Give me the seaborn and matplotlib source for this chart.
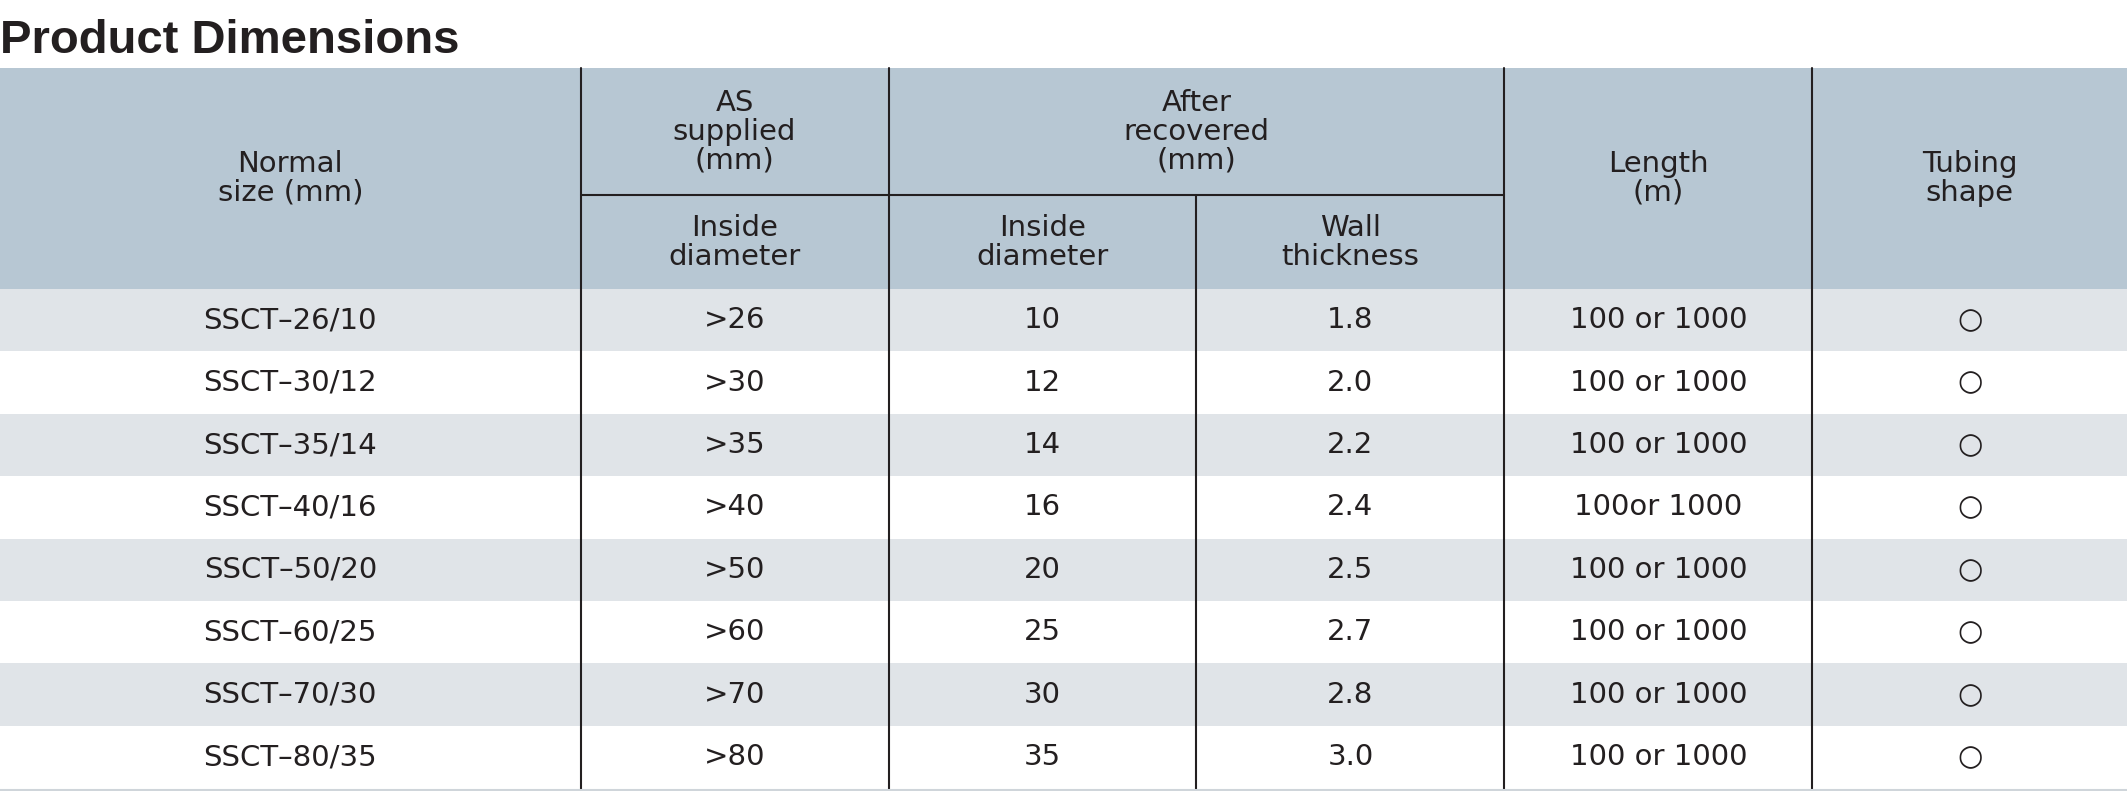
import matplotlib
matplotlib.use('Agg')
from matplotlib import pyplot as plt
import seaborn as sns

sns.set_theme(style='white')
plt.rcParams['font.family'] = ['Liberation Sans Narrow', 'DejaVu Sans']

sizes = ['SSCT-26/10', 'SSCT-30/12', 'SSCT-35/14', 'SSCT-40/16',
         'SSCT-50/20', 'SSCT-60/25', 'SSCT-70/30', 'SSCT-80/35']
supplied_id = ['>26', '>30', '>35', '>40', '>50', '>60', '>70', '>80']
recovered_id = ['10', '12', '14', '16', '20', '25', '30', '35']
wall = ['1.8', '2.0', '2.2', '2.4', '2.5', '2.7', '2.8', '3.0']
length = ['100 or 1000', '100 or 1000', '100 or 1000', '100or 1000',
          '100 or 1000', '100 or 1000', '100 or 1000', '100 or 1000']
shape = ['○'] * 8

W, H = 1568, 583
cols = [0, 428, 655, 882, 1109, 1336, 1568]
head_top, head_mid, head_bot = 50, 144, 213
row_h = 46

fig = plt.figure(figsize=(21.27, 7.91), dpi=100)
ax = fig.add_axes([0, 0, 1, 1])
ax.set_xlim(0, W)
ax.set_ylim(H, 0)
ax.axis('off')

hdr = '#b7c7d3'
stripe = '#e0e4e8'
txt = '#231f20'
fs = 21

ax.text(0, 30, 'Product Dimensions', fontsize=34, fontweight='bold',
        color=txt, va='center', ha='left', family=['Liberation Sans', 'DejaVu Sans'])

ax.add_patch(plt.Rectangle((0, head_top), W, head_bot - head_top, color=hdr, lw=0))
rows = list(zip(sizes, supplied_id, recovered_id, wall, length, shape))
for i, r in enumerate(rows):
    y0 = head_bot + i * row_h
    if i % 2 == 0:
        ax.add_patch(plt.Rectangle((0, y0), W, row_h, color=stripe, lw=0))
    for j, v in enumerate(r):
        cx = (cols[j] + cols[j + 1]) / 2
        ax.text(cx, y0 + row_h / 2, v.replace('-', '\u2013'), fontsize=fs,
                ha='center', va='center', color=txt)

# vertical lines
for j, x in enumerate(cols[1:-1], start=1):
    top = head_mid if x == 882 else head_top
    ax.plot([x, x], [top, H], color=txt, lw=1.5)
ax.plot([428, 1109], [head_mid, head_mid], color=txt, lw=1.5)
ax.plot([0, W], [H - 1, H - 1], color='#cfd5da', lw=1.5)

def hcell(x0, x1, y0, y1, s):
    ax.text((x0 + x1) / 2, (y0 + y1) / 2, s, fontsize=fs, ha='center',
            va='center', color=txt, linespacing=1.05)

hcell(0, 428, head_top, head_bot, 'Normal\nsize (mm)')
hcell(428, 655, head_top, head_mid, 'AS\nsupplied\n(mm)')
hcell(655, 1109, head_top, head_mid, 'After\nrecovered\n(mm)')
hcell(428, 655, head_mid, head_bot, 'Inside\ndiameter')
hcell(655, 882, head_mid, head_bot, 'Inside\ndiameter')
hcell(882, 1109, head_mid, head_bot, 'Wall\nthickness')
hcell(1109, 1336, head_top, head_bot, 'Length\n(m)')
hcell(1336, 1568, head_top, head_bot, 'Tubing\nshape')

fig.savefig('out.png', dpi=100)
